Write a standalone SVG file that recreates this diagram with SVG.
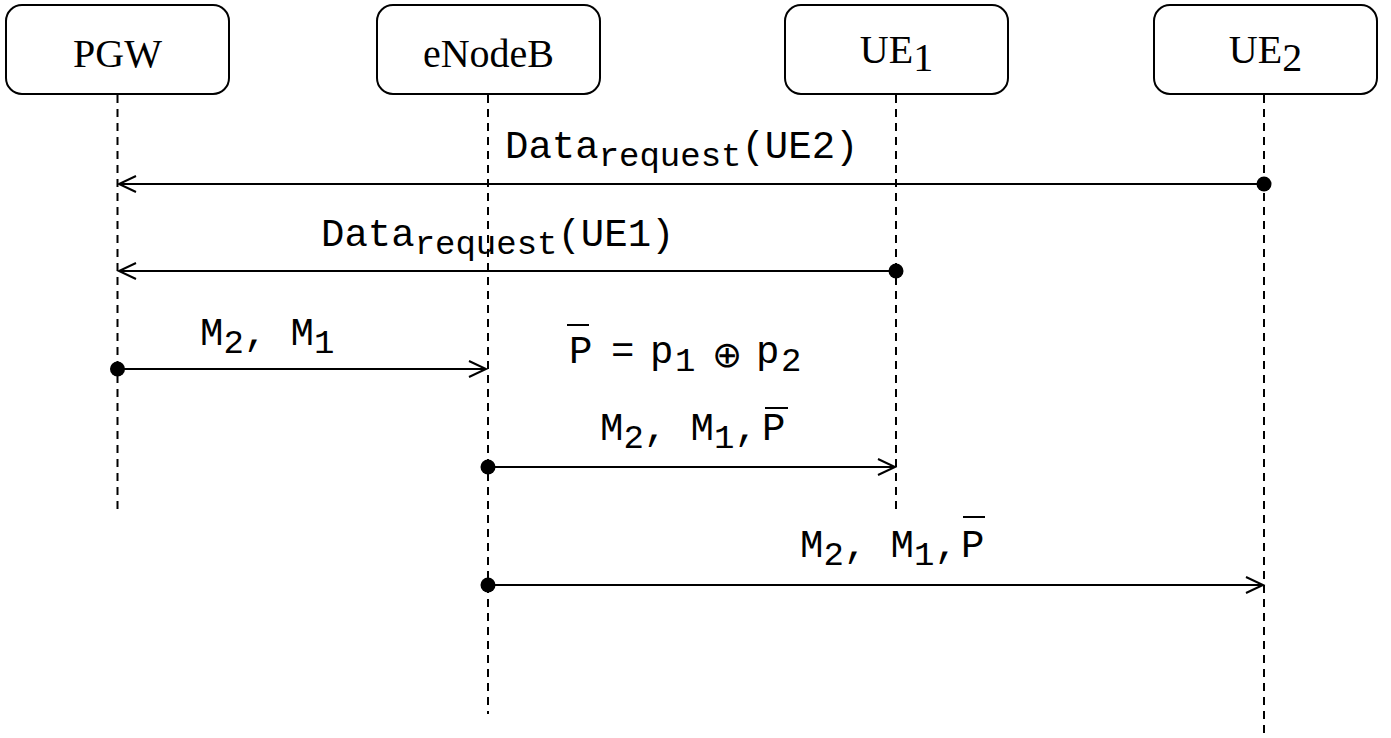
<svg xmlns="http://www.w3.org/2000/svg" width="1391" height="738" viewBox="0 0 1391 738">
<style>
.box{fill:#fff;stroke:#000;stroke-width:2}
.hdr{font-family:"Liberation Serif","Times New Roman",serif;font-size:40px;fill:#000;text-anchor:middle}
.life{stroke:#000;stroke-width:2;stroke-dasharray:8 6;fill:none}
.msg{stroke:#000;stroke-width:2;fill:none}
.dot{fill:#000}
.lbl{font-family:"Liberation Mono","Courier New",monospace;font-size:39px;fill:#000}
.sub{font-size:34px}
.ovl{stroke:#000;stroke-width:2}
</style>
<defs>
<marker id="open" markerUnits="userSpaceOnUse" markerWidth="24" markerHeight="20" refX="18" refY="9" orient="auto" viewBox="0 0 24 20">
<path d="M1,1 L18,9 L1,17" fill="none" stroke="#000" stroke-width="2"/>
</marker>
</defs>
<rect width="1391" height="738" fill="#fff"/>
<g id="lifelines">
<line class="life" x1="117.5" y1="95" x2="117.5" y2="514"/>
<line class="life" x1="488" y1="95" x2="488" y2="714"/>
<line class="life" x1="896" y1="95" x2="896" y2="514"/>
<line class="life" x1="1264" y1="95" x2="1264" y2="738"/>
</g>
<g id="node-pgw">
<rect class="box" x="6" y="5" width="223" height="89" rx="16"/>
<text class="hdr" x="117.5" y="67">PGW</text>
</g>
<g id="node-enodeb">
<rect class="box" x="377" y="5" width="223" height="89" rx="16"/>
<text class="hdr" x="488.5" y="67">eNodeB</text>
</g>
<g id="node-ue1">
<rect class="box" x="785" y="5" width="223" height="89" rx="16"/>
<text class="hdr" x="896.5" y="63">UE<tspan dy="8">1</tspan></text>
</g>
<g id="node-ue2">
<rect class="box" x="1154" y="5" width="223" height="89" rx="16"/>
<text class="hdr" x="1265.5" y="63">UE<tspan dy="8">2</tspan></text>
</g>
<g id="connectors">
<line class="msg" x1="1264" y1="184" x2="119" y2="184" marker-end="url(#open)"/>
<circle class="dot" cx="1264" cy="184" r="7.5"/>
<line class="msg" x1="896" y1="271" x2="119" y2="271" marker-end="url(#open)"/>
<circle class="dot" cx="896" cy="271" r="7.5"/>
<line class="msg" x1="117.5" y1="369" x2="486" y2="369" marker-end="url(#open)"/>
<circle class="dot" cx="117.5" cy="369" r="7.5"/>
<line class="msg" x1="488" y1="467" x2="895" y2="467" marker-end="url(#open)"/>
<circle class="dot" cx="488" cy="467" r="7.5"/>
<line class="msg" x1="488" y1="585" x2="1263" y2="585" marker-end="url(#open)"/>
<circle class="dot" cx="488" cy="585" r="7.5"/>
</g>
<g id="labels">
<text class="lbl" x="505" y="158">Data<tspan class="sub" dy="8">request</tspan><tspan dy="-8">(UE2)</tspan></text>
<text class="lbl" x="321" y="246">Data<tspan class="sub" dy="8">request</tspan><tspan dy="-8">(UE1)</tspan></text>
<text class="lbl" x="200" y="345">M<tspan class="sub" dy="8">2</tspan><tspan dy="-8">, M</tspan><tspan class="sub" dy="8">1</tspan></text>
<text class="lbl" x="569" y="363">P<tspan x="611">=</tspan><tspan x="650">p</tspan><tspan class="sub" x="675" dy="8">1</tspan><tspan x="727" dy="-4" font-family="DejaVu Sans, sans-serif" font-size="36px" text-anchor="middle">⊕</tspan><tspan x="756" dy="-4">p</tspan><tspan class="sub" x="781" dy="8">2</tspan></text>
<line class="ovl" x1="567" y1="325" x2="589" y2="325"/>
<text class="lbl" x="600" y="440">M<tspan class="sub" dy="8">2</tspan><tspan dy="-8">, M</tspan><tspan class="sub" dy="8">1</tspan><tspan dy="-8">,</tspan><tspan x="762">P</tspan></text>
<line class="ovl" x1="765" y1="408" x2="788" y2="408"/>
<text class="lbl" x="800" y="557">M<tspan class="sub" dy="8">2</tspan><tspan dy="-8">, M</tspan><tspan class="sub" dy="8">1</tspan><tspan dy="-8">,</tspan><tspan x="961">P</tspan></text>
<line class="ovl" x1="963" y1="517" x2="985" y2="517"/>
</g>
</svg>
